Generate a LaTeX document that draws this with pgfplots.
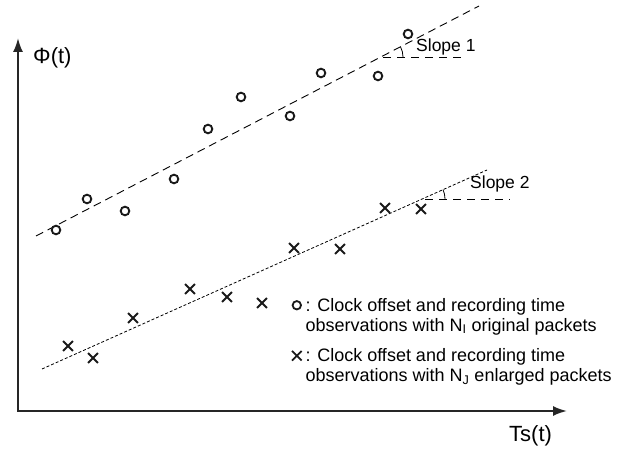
\documentclass[border=0pt]{standalone}
\usepackage{fontspec}
\setmainfont{Liberation Sans}
\usepackage{pgfplots}
\pgfplotsset{compat=1.18}
\usetikzlibrary{arrows.meta}
\newcommand{\lt}[2]{\raisebox{0pt}[13bp][0bp]{\begin{tabular}[t]{@{}l@{}}#1\\#2\end{tabular}}}
\begin{document}
\begin{tikzpicture}
\begin{axis}[
  x=1bp, y=1bp, xmin=0, xmax=619, ymin=0, ymax=452, y dir=reverse,
  hide axis, clip=false, scale only axis,
  legend cell align=left,
  legend style={draw=none, fill=none, at={(axis cs:292,330.5)}, anchor=west,
    inner sep=0pt, outer sep=0pt, row sep=36bp, column sep=4bp,
    nodes={inner sep=0pt},
    font=\fontsize{18bp}{20bp}\selectfont},
]
\path (axis cs:0,0) rectangle (axis cs:619,452);
% axes
\draw[line width=1.9bp, color=black!85, {Latex[length=14bp,width=10bp]}-{Latex[length=14bp,width=10bp]}]
  (axis cs:18,38) -- (axis cs:18,411) -- (axis cs:567,411);
% fitted lines
\addplot[forget plot, black, line width=0.9bp, dash pattern=on 8bp off 5bp] coordinates {(36,236) (479,6)};
\addplot[forget plot, black, line width=0.8bp, dash pattern=on 3bp off 2bp] coordinates {(42,369) (487,170)};
\addplot[forget plot, black, line width=0.9bp, dash pattern=on 8bp off 6bp] coordinates {(383,57) (467,57)};
\addplot[forget plot, black, line width=0.9bp, dash pattern=on 8bp off 6bp] coordinates {(425,199) (510,199)};
% data
\addplot[forget plot, only marks, mark=o, mark size=4.3bp, line width=1.9bp, black!90] coordinates {
(56,230) (87,199) (125,211) (174,179) (208,129) (241,97) (290,116) (321,73) (378,76) (408,34)};
\addplot[forget plot, only marks, mark=x, mark size=7bp, line width=1.9bp, black!90] coordinates {
(68,346) (93,358) (133,318) (190,289) (227,297) (262,303) (294,248) (340,249) (385,208) (421,209)};
\addlegendimage{only marks, mark=o, mark size=4.2bp, line width=1.8bp, black!90}
\addlegendentry{\lt{: Clock offset and recording time}{observations with N\textsubscript{I} original packets}}
\addlegendimage{only marks, mark=x, mark size=6.8bp, line width=1.8bp, black!90}
\addlegendentry{\lt{: Clock offset and recording time}{observations with N\textsubscript{J} enlarged packets}}
% slope arcs
\draw[black, line width=0.8bp] (axis cs:403,57) arc[start angle=0, end angle=27.4, radius=22bp];
\draw[black, line width=0.8bp] (axis cs:445,199) arc[start angle=0, end angle=24.1, radius=23bp];
% labels
\node[anchor=west, inner sep=0pt, font=\fontsize{17.5bp}{20bp}\selectfont] at (axis cs:416,47) {Slope 1};
\node[anchor=west, inner sep=0pt, font=\fontsize{17.5bp}{20bp}\selectfont] at (axis cs:470,184) {Slope 2};
\node[anchor=west, inner sep=0pt, font=\fontsize{22bp}{24bp}\selectfont] at (axis cs:33,58) {Φ(t)};
\node[anchor=west, inner sep=0pt, font=\fontsize{22bp}{24bp}\selectfont] at (axis cs:509,436) {Ts(t)};
\end{axis}
\end{tikzpicture}
\end{document}
